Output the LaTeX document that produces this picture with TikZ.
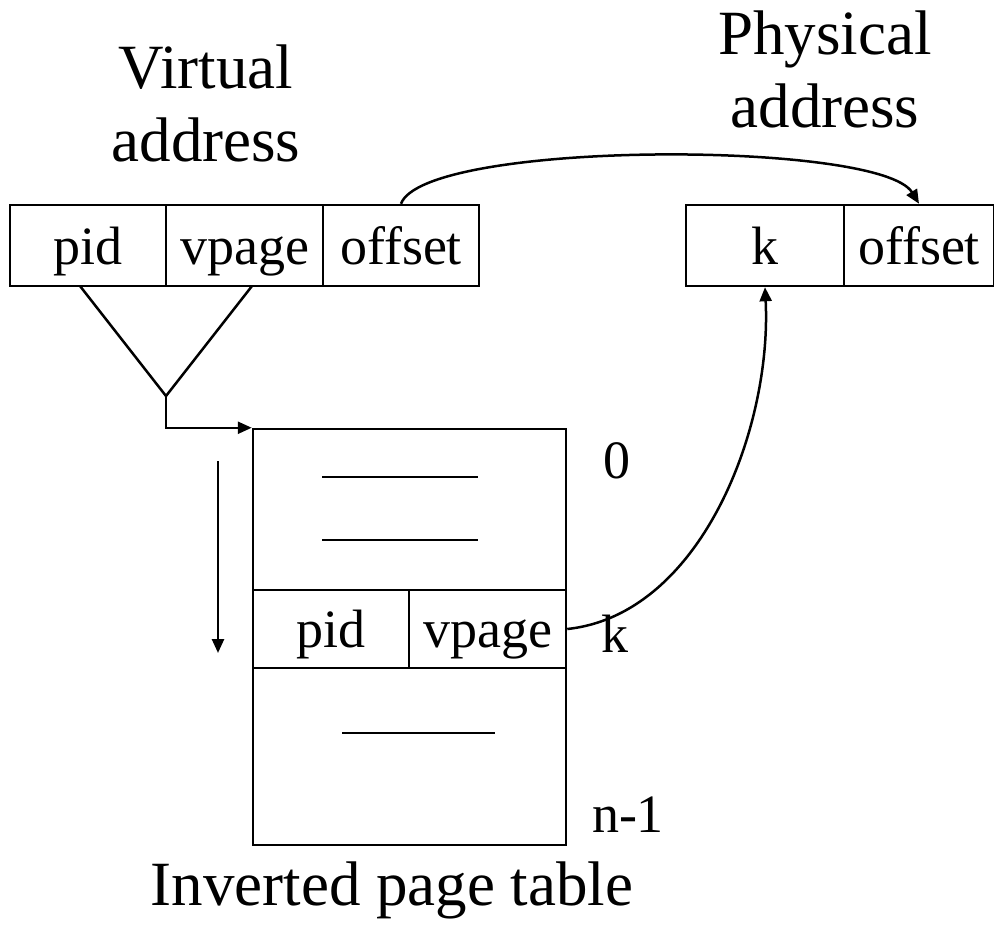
\documentclass[tikz,border=0pt]{standalone}
\usepackage{fontspec}
\setmainfont{Liberation Serif}
\usetikzlibrary{arrows.meta}
\begin{document}
\begin{tikzpicture}[x=1pt,y=-1pt,
  cell/.style={draw,line width=2.5pt,inner sep=0pt,minimum height=81pt,text height=42pt,text depth=5pt,font=\fontsize{54}{60}\selectfont},
  blank/.style={draw,line width=2.5pt,inner sep=0pt},
  lbl/.style={anchor=base,inner sep=0pt,font=\fontsize{54}{60}\selectfont},
  head/.style={align=center,inner sep=0pt,font=\fontsize{63}{73}\selectfont},
  ln/.style={line width=2.5pt},
  arr/.style={line width=2.5pt,-{Triangle[length=14pt,width=12pt]}}]
\useasboundingbox (0,0) rectangle (994,938);
% virtual address
\node[cell,minimum width=156pt] (vpid) at (88,245.5) {pid};
\node[cell,minimum width=157pt] (vvpage) at (244.5,245.5) {vpage};
\node[cell,minimum width=156pt] (voff) at (401,245.5) {offset};
\node[head,anchor=base] (vhead) at (206,161) {Virtual\\address};
% physical address
\node[cell,minimum width=158pt] (pk) at (765,245.5) {k};
\node[cell,minimum width=150pt] (poff) at (919,245.5) {offset};
\node[head,anchor=base] (phead) at (825,127) {Physical\\address};
% triangle
\coordinate (tl) at (80,286);
\coordinate (tr) at (252,286);
\coordinate (apex) at (166,396);
\draw[ln,line join=miter] (tl) -- (apex) -- (tr);
% inverted page table
\node[blank,minimum width=313pt,minimum height=161pt] (row0) at (409.5,509.5) {};
\node[cell,minimum width=156pt,minimum height=78pt] (tpid) at (331,629) {pid};
\node[cell,minimum width=157pt,minimum height=78pt] (tvpage) at (487.5,629) {vpage};
\node[blank,minimum width=313pt,minimum height=177pt] (rowend) at (409.5,756.5) {};
\draw[arr] (apex) |- (row0.north west);
\draw[ln] (322,477) -- (478,477);
\draw[ln] (322,540) -- (478,540);
\draw[ln] (342,733) -- (495,733);
\coordinate (dtop) at (218,461);
\coordinate (dbot) at (218,653);
\draw[arr] (dtop) -- (dbot);
\node[lbl] (l0) at (617,478) {0};
\node[lbl] (lk) at (615,652) {k};
\node[lbl] (ln1) at (628,832) {n-1};
\node[head,anchor=base] (thead) at (392,905) {Inverted page table};
% connectors
\draw[arr] (voff.north) .. controls (425,140) and (880,140) .. (poff.north);
\draw[arr] (tvpage.east) .. controls (700,615) and (772,430) .. (pk.south);
\end{tikzpicture}
\end{document}
